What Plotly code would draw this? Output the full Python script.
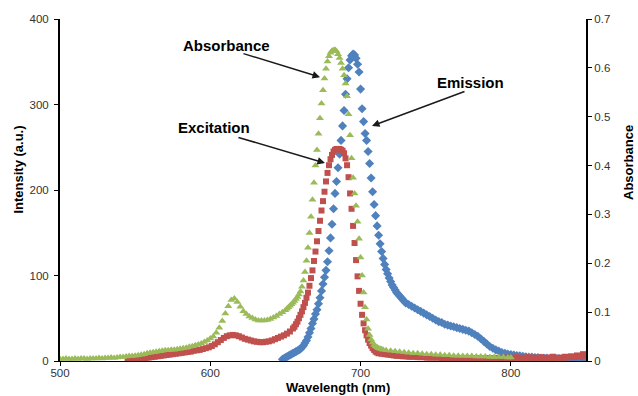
import plotly.graph_objects as go

# Absorbance spectrum (right axis): (wavelength nm, absorbance)
ABSORBANCE = [
    (500, .004), (502, .004), (504, .005), (506, .004), (508, .004), (510, .005), (512, .004),
    (514, .005), (516, .005), (518, .004), (520, .005), (522, .005), (524, .005), (526, .006),
    (528, .005), (530, .006), (532, .006), (534, .007), (536, .006), (538, .007), (540, .008),
    (542, .008), (544, .009), (546, .010), (548, .010), (550, .011), (552, .012), (554, .013),
    (556, .014), (558, .016), (560, .017), (562, .018), (564, .019), (566, .020), (568, .021),
    (570, .022), (572, .022), (574, .023), (576, .023), (578, .024), (580, .025), (582, .026),
    (584, .027), (586, .029), (588, .030), (590, .032), (592, .034), (594, .036), (596, .039),
    (598, .042), (600, .046), (602, .050), (604, .058), (606, .068), (608, .082), (610, .097),
    (612, .112), (614, .125), (616, .128), (618, .121), (620, .111), (622, .102), (624, .096),
    (626, .091), (628, .088), (630, .085), (632, .083), (634, .083), (636, .083), (638, .084),
    (640, .086), (642, .089), (644, .092), (646, .096), (648, .100), (650, .104),
    (651, .107), (652, .110), (653, .113), (654, .116), (655, .119), (656, .123), (657, .127),
    (658, .131), (659, .136), (660, .142), (661, .152), (662, .165), (663, .182), (664, .205),
    (665, .232), (666, .262), (667, .295), (668, .330), (669, .365), (670, .400), (671, .432),
    (672, .465), (673, .497), (674, .527), (675, .554), (676, .578), (677, .598), (678, .613),
    (679, .624), (680, .631), (681, .635), (682, .636), (683, .637), (684, .634), (685, .628),
    (686, .620), (687, .610), (688, .598), (689, .585), (690, .568), (691, .542), (692, .505),
    (693, .462), (694, .415), (695, .375), (696, .343), (697, .318), (698, .285), (699, .250),
    (700, .212), (701, .175), (702, .140), (703, .110), (704, .085), (705, .066), (706, .053),
    (707, .044), (708, .038), (709, .033), (710, .030), (711, .028), (712, .026), (713, .025),
    (714, .024), (715, .023),
    (717, .022), (720, .021), (723, .020), (726, .019), (729, .018), (732, .017), (735, .016),
    (738, .016), (741, .015), (744, .014), (747, .014), (750, .013), (753, .013), (756, .012),
    (759, .012), (762, .011), (765, .011), (768, .010), (771, .010), (774, .010), (777, .009),
    (780, .009), (783, .009), (786, .008), (789, .008), (792, .008), (795, .008), (798, .007),
    (800, .007),
]

# Excitation spectrum (left axis): (wavelength nm, intensity a.u.)
EXCITATION = [
    (545, 1), (547, 1.5), (549, 2), (551, 2), (553, 2.5), (555, 3), (557, 3.5), (559, 4),
    (561, 4.5), (563, 5), (565, 5.5), (567, 6), (569, 6.5), (571, 7), (573, 7.5), (575, 8),
    (577, 8.5), (579, 9), (581, 9.5), (583, 10), (585, 10.5), (587, 11), (589, 12), (591, 12.5),
    (593, 13), (595, 14), (597, 15), (599, 16), (601, 17.5), (603, 19.5), (605, 22), (607, 24.5),
    (609, 27), (611, 29), (613, 30), (615, 30.5), (617, 30), (619, 29), (621, 27.5), (623, 26),
    (625, 25), (627, 24), (629, 23), (631, 22.5), (633, 22), (635, 22), (637, 22.5), (639, 23),
    (641, 24), (643, 25.5), (645, 27), (647, 28.5), (649, 30), (651, 32), (653, 34.5), (655, 38),
    (656, 40), (657, 43), (658, 46), (659, 50), (660, 54), (661, 58), (662, 63), (663, 68),
    (664, 74), (665, 80), (666, 88), (667, 97), (668, 106), (669, 117), (670, 128), (671, 140),
    (672, 152), (673, 164), (674, 176), (675, 187), (676, 198), (677, 210), (678, 220),
    (679, 229), (680, 236), (681, 241), (682, 245), (683, 247), (684, 248), (685, 248),
    (686, 248), (687, 247), (688, 246), (689, 243), (690, 237), (691, 229), (692, 215),
    (693, 196), (694, 178), (695, 158), (696, 138), (697, 118), (698, 99), (699, 82), (700, 67),
    (701, 54), (702, 44), (703, 36), (704, 30), (705, 25), (706, 21), (707, 18), (708, 15),
    (709, 13), (710, 11), (711, 10), (712, 9),
    (714, 8.5), (716, 8), (718, 7.5), (720, 7), (722, 6.5), (724, 6), (726, 6), (728, 5.5),
    (730, 5.5), (732, 5), (734, 5), (736, 5), (738, 4.5), (740, 4.5), (742, 4.5), (744, 4),
    (746, 4), (748, 4), (750, 4), (752, 4), (754, 3.5), (756, 3.5), (758, 3.5), (760, 3.5),
    (762, 3.5), (764, 3.5), (766, 3), (768, 3), (770, 3), (772, 3), (774, 3), (776, 3), (778, 3),
    (780, 3), (782, 3), (784, 3.5), (786, 3), (788, 3), (790, 3.5), (792, 3), (794, 3.5),
    (796, 4), (798, 3.5), (800, 4), (802, 3.5), (804, 4.5), (806, 3), (808, 4), (810, 3.5),
    (812, 4.5), (814, 3), (816, 4), (818, 3.5), (820, 4.5), (822, 3), (824, 4), (826, 3.5),
    (828, 5), (830, 3), (832, 4), (834, 3.5), (836, 5), (838, 4), (840, 5.5), (842, 4.5),
    (844, 6.5), (846, 5), (848, 8), (850, 6),
]

# Emission spectrum (left axis): (wavelength nm, intensity a.u.)
EMISSION = [
    (648, 2), (649, 3), (650, 4), (651, 5), (652, 6), (653, 7), (654, 8), (655, 9), (656, 10),
    (657, 11), (658, 12), (659, 13), (660, 14), (661, 16), (662, 18), (663, 21), (664, 24),
    (665, 28), (666, 33), (667, 38), (668, 44), (669, 49), (670, 55), (671, 60), (672, 67),
    (673, 74), (674, 82), (675, 90), (676, 98), (677, 106), (678, 116), (679, 129), (680, 144),
    (681, 160), (682, 178), (683, 196), (684, 210), (685, 226), (686, 242), (687, 258),
    (688, 275), (689, 293), (690, 312), (691, 330), (692, 343), (693, 352), (694, 357),
    (695, 359), (696, 358), (697, 354), (698, 347), (699, 338), (700, 318), (701, 295),
    (702, 280), (703, 266), (704, 258), (705, 245), (706, 231), (707, 214), (708, 198),
    (709, 183), (710, 170), (711, 158), (712, 147), (713, 137), (714, 128), (715, 120),
    (716, 113), (717, 107), (718, 102), (719, 97), (720, 93), (721, 89), (722, 86), (723, 83),
    (724, 80), (725, 78), (726, 76), (727, 74), (728, 72), (729, 70), (730, 68),
    (732, 66), (734, 64), (736, 62), (738, 60), (740, 58), (742, 56), (744, 54), (746, 52),
    (748, 50), (750, 48), (752, 46), (754, 45), (756, 43), (758, 42), (760, 41), (762, 40),
    (764, 39), (766, 38), (768, 37), (770, 36), (772, 35), (774, 33), (776, 31), (778, 29),
    (780, 26), (782, 23), (784, 20), (786, 17), (788, 15), (790, 13), (792, 11.5), (794, 10),
    (796, 9), (798, 8), (800, 7.5), (802, 7), (804, 6.5), (806, 6), (808, 5.5), (810, 5),
    (812, 4.5), (814, 4.5), (816, 4), (818, 4), (820, 3.5), (822, 3.5), (824, 3.5), (826, 3),
    (828, 3), (830, 3), (832, 3), (834, 2.5), (836, 2.5), (838, 2.5), (840, 2.5), (842, 2.5),
    (844, 2.5), (846, 2), (848, 2), (850, 2),
]

X_TICKS = [500, 600, 700, 800]
Y_TICKS = [0, 100, 200, 300, 400]
Y2_TICKS = [0, 0.1, 0.2, 0.3, 0.4, 0.5, 0.6, 0.7]

GREEN = "#9BBB59"
BLUE = "#4F81BD"
RED = "#C0504D"
FONT = "Liberation Sans, Arial, sans-serif"


def split(pairs):
    return [p[0] for p in pairs], [p[1] for p in pairs]


fig = go.Figure()

wl, val = split(EMISSION)
fig.add_trace(go.Scatter(x=wl, y=val, mode="markers", name="Emission",
                         marker=dict(symbol="diamond", size=7, color=BLUE, line=dict(width=0))))
wl, val = split(EXCITATION)
fig.add_trace(go.Scatter(x=wl, y=val, mode="markers", name="Excitation",
                         marker=dict(symbol="square", size=6, color=RED, line=dict(width=0))))
wl, val = split(ABSORBANCE)
fig.add_trace(go.Scatter(x=wl, y=val, mode="markers", name="Absorbance", yaxis="y2",
                         marker=dict(symbol="triangle-up", size=7, color=GREEN, line=dict(width=0))))

axis_common = dict(showgrid=False, zeroline=False, showline=True, linecolor="black",
                   ticks="outside", ticklen=4, tickcolor="black", tickwidth=1,
                   tickfont=dict(family=FONT, size=11.5, color="#333333"))

fig.update_layout(
    width=638, height=396,
    margin=dict(l=60, r=52, t=19, b=35),
    paper_bgcolor="white", plot_bgcolor="white",
    showlegend=False,
    xaxis=dict(range=[500, 850], tickvals=X_TICKS, linewidth=1, ticklabelstandoff=-3,
               **axis_common),
    yaxis=dict(range=[0, 400], tickvals=Y_TICKS, linewidth=2, ticklabelstandoff=3,
               **axis_common),
    yaxis2=dict(range=[0, 0.7], tickvals=Y2_TICKS, overlaying="y", side="right",
                linewidth=2, **axis_common),
)

title_font = dict(family=FONT, size=13, color="black")
label_font = dict(family=FONT, size=15, color="black")

annotations = [
    # axis titles
    dict(text="<b>Intensity (a.u.)</b>", xref="paper", yref="paper", x=-0.079, y=0.561,
         textangle=-90, showarrow=False, font=title_font, xanchor="center", yanchor="middle"),
    dict(text="<b>Absorbance</b>", xref="paper", yref="paper", x=(629 - 60) / 526, y=0.579,
         textangle=-90, showarrow=False, font=title_font, xanchor="center", yanchor="middle"),
    dict(text="<b>Wavelength (nm)</b>", xref="paper", yref="paper", x=0.528, y=(361 - 387) / 342,
         showarrow=False, font=title_font, xanchor="center", yanchor="middle"),
    # curve labels
    dict(text="<b>Absorbance</b>", xref="paper", yref="paper", x=(226 - 60) / 526,
         y=(361 - 45) / 342, showarrow=False, font=label_font, xanchor="center", yanchor="middle"),
    dict(text="<b>Excitation</b>", xref="paper", yref="paper", x=(214 - 60) / 526,
         y=(361 - 127) / 342, showarrow=False, font=label_font, xanchor="center", yanchor="middle"),
    dict(text="<b>Emission</b>", xref="paper", yref="paper", x=(470 - 60) / 526,
         y=(361 - 82) / 342, showarrow=False, font=label_font, xanchor="center", yanchor="middle"),
]

# pointer arrows (tip in data coordinates, tail offset in pixels)
arrows = [(673.0, 332, -78, -24), (676.3, 231.6, -88, -26), (707.6, 275, 94, -35)]
for ax_x, ax_y, dx, dy in arrows:
    annotations.append(dict(text="", x=ax_x, y=ax_y, xref="x", yref="y", ax=dx, ay=dy,
                            showarrow=True, arrowhead=2, arrowsize=1, arrowwidth=1.5,
                            arrowcolor="#1a1a1a"))

fig.update_layout(annotations=annotations)

fig.write_html("out.html")
